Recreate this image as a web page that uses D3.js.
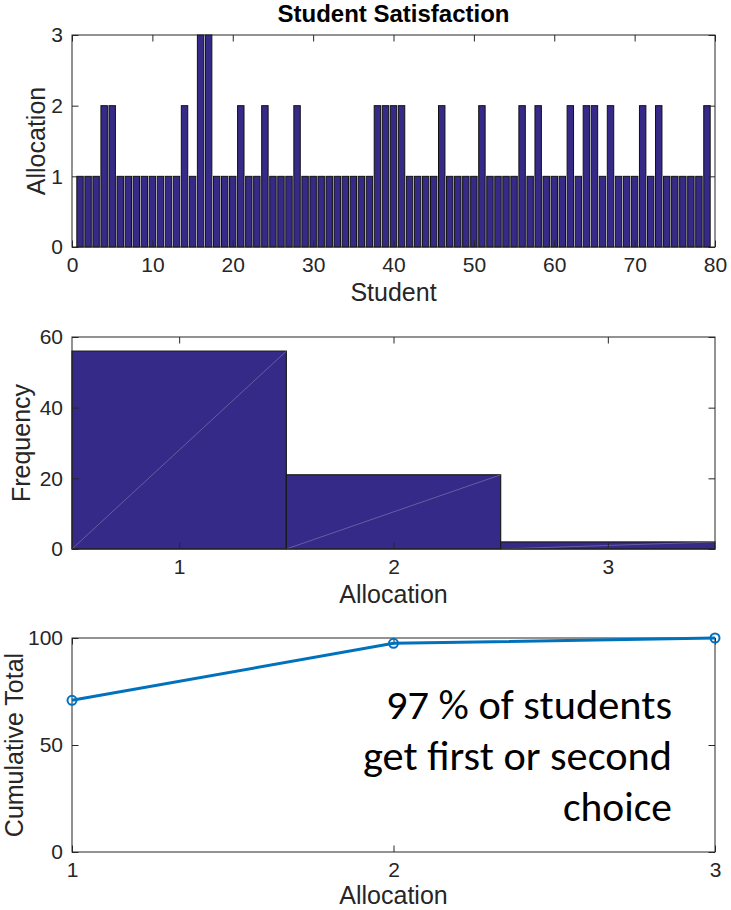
<!DOCTYPE html>
<html>
<head>
<meta charset="utf-8">
<script src="https://cdn.jsdelivr.net/npm/d3@7"></script>
<style>
body { margin: 0; background: #fff; }
svg text { font-family: "Liberation Sans", Arial, sans-serif; fill: #262626; }
.tick line, .box { stroke: #262626; }
</style>
</head>
<body>
<div id="chart"></div>
<script>
// choice rank each student ended up with (students 1..79)
var allocation = [1,1,1,2,2,1,1,1,1,1,1,1,1,2,1,3,3,1,1,1,
                  2,1,1,2,1,1,1,2,1,1,1,1,1,1,1,1,1,2,2,2,
                  2,1,1,1,1,2,1,1,1,1,2,1,1,1,1,2,1,2,1,1,
                  1,2,1,2,2,1,2,1,1,1,2,1,2,1,1,1,1,1,2];

// histogram of allocations
var choices = [1, 2, 3];
var frequency = [56, 21, 2];

// cumulative percentage of students
var cumulative = [70.9, 97.5, 100];

var studentTicks = [0, 10, 20, 30, 40, 50, 60, 70, 80];
var allocTicks = [0, 1, 2, 3];
var freqTicks = [0, 20, 40, 60];
var cumTicks = [0, 50, 100];

var noteLines = ["97 % of students", "get first or second", "choice"];

var W = 731, H = 910;
var left = 72, right = 715;
var barColor = "#352a87";
var lineColor = "#0072bd";

var svg = d3.select("#chart").append("svg")
    .attr("width", W)
    .attr("height", H);

// draws the box, inward ticks on all four sides and the tick labels
function drawFrame(x, y, top, bottom, xTicks, yTicks) {
    var g = svg.append("g");

    g.append("g")
        .attr("transform", "translate(0," + bottom + ")")
        .call(d3.axisBottom(x).tickValues(xTicks).tickSize(-6.5).tickPadding(10).tickFormat(d3.format("d")))
        .call(function(a) { a.select(".domain").remove(); a.selectAll("text").style("font-size", "21px"); });

    g.append("g")
        .attr("transform", "translate(0," + top + ")")
        .call(d3.axisTop(x).tickValues(xTicks).tickSize(-6.5).tickFormat(""))
        .call(function(a) { a.select(".domain").remove(); });

    g.append("g")
        .attr("transform", "translate(" + left + ",0)")
        .call(d3.axisLeft(y).tickValues(yTicks).tickSize(-6.5).tickPadding(9).tickFormat(d3.format("d")))
        .call(function(a) { a.select(".domain").remove(); a.selectAll("text").style("font-size", "21px"); });

    g.append("g")
        .attr("transform", "translate(" + right + ",0)")
        .call(d3.axisRight(y).tickValues(yTicks).tickSize(-6.5).tickFormat(""))
        .call(function(a) { a.select(".domain").remove(); });

    g.append("rect")
        .attr("class", "box")
        .attr("x", left)
        .attr("y", top)
        .attr("width", right - left)
        .attr("height", bottom - top)
        .attr("fill", "none")
        .attr("stroke-width", 1);

    return g;
}

function yLabel(text, x, cy) {
    svg.append("text")
        .attr("transform", "translate(" + x + "," + cy + ") rotate(-90)")
        .attr("text-anchor", "middle")
        .style("font-size", "25px")
        .text(text);
}

function xLabel(text, baseline) {
    svg.append("text")
        .attr("x", (left + right) / 2)
        .attr("y", baseline)
        .attr("text-anchor", "middle")
        .style("font-size", "25px")
        .text(text);
}

/* ---------- panel 1: allocation per student ---------- */
var t1 = 35, b1 = 247;
var x1 = d3.scaleLinear().domain([0, 80]).range([left, right]);
var y1 = d3.scaleLinear().domain([0, 3]).range([b1, t1]);

svg.append("g").selectAll("rect")
    .data(allocation)
    .enter()
    .append("rect")
    .attr("x", function(d, i) { return x1(i + 1 - 0.4); })
    .attr("y", function(d) { return y1(d); })
    .attr("width", x1(0.8) - x1(0))
    .attr("height", function(d) { return b1 - y1(d); })
    .attr("fill", barColor)
    .attr("stroke", "#111")
    .attr("stroke-width", 1);

drawFrame(x1, y1, t1, b1, studentTicks, allocTicks);

svg.append("text")
    .attr("x", (left + right) / 2)
    .attr("y", 22)
    .attr("text-anchor", "middle")
    .style("font-size", "24px")
    .style("font-weight", "bold")
    .style("fill", "#000")
    .text("Student Satisfaction");

xLabel("Student", 301);
yLabel("Allocation", 45, (t1 + b1) / 2);

/* ---------- panel 2: histogram ---------- */
var t2 = 337, b2 = 549;
var x2 = d3.scaleLinear().domain([0.5, 3.5]).range([left, right]);
var y2 = d3.scaleLinear().domain([0, 60]).range([b2, t2]);

var bins = svg.append("g").selectAll("g")
    .data(frequency)
    .enter()
    .append("g");

bins.append("rect")
    .attr("x", function(d, i) { return x2(choices[i] - 0.5); })
    .attr("y", function(d) { return y2(d); })
    .attr("width", x2(1.5) - x2(0.5))
    .attr("height", function(d) { return b2 - y2(d); })
    .attr("fill", barColor)
    .attr("stroke", "#1a1a1a")
    .attr("stroke-width", 1.2);

// faint render seam across each patch
bins.append("line")
    .attr("x1", function(d, i) { return x2(choices[i] - 0.5); })
    .attr("y1", b2)
    .attr("x2", function(d, i) { return x2(choices[i] + 0.5); })
    .attr("y2", function(d) { return y2(d); })
    .attr("stroke", "#ffffff")
    .attr("stroke-opacity", 0.35)
    .attr("stroke-width", 0.7);

drawFrame(x2, y2, t2, b2, choices, freqTicks);
xLabel("Allocation", 603);
yLabel("Frequency", 30, (t2 + b2) / 2);

/* ---------- panel 3: cumulative total ---------- */
var t3 = 638, b3 = 852;
var x3 = d3.scaleLinear().domain([1, 3]).range([left, right]);
var y3 = d3.scaleLinear().domain([0, 100]).range([b3, t3]);

drawFrame(x3, y3, t3, b3, choices, cumTicks);

var line = d3.line()
    .x(function(d, i) { return x3(choices[i]); })
    .y(function(d) { return y3(d); });

svg.append("path")
    .datum(cumulative)
    .attr("d", line)
    .attr("fill", "none")
    .attr("stroke", lineColor)
    .attr("stroke-width", 3);

svg.append("g").selectAll("circle")
    .data(cumulative)
    .enter()
    .append("circle")
    .attr("cx", function(d, i) { return x3(choices[i]); })
    .attr("cy", function(d) { return y3(d); })
    .attr("r", 4.5)
    .attr("fill", "none")
    .attr("stroke", lineColor)
    .attr("stroke-width", 2);

xLabel("Allocation", 904);
yLabel("Cumulative Total", 23, (t3 + b3) / 2);

// annotation
var noteWidths = [286, 309, 109];
svg.append("g").selectAll("text")
    .data(noteLines)
    .enter()
    .append("text")
    .attr("x", 672)
    .attr("y", function(d, i) { return 719 + i * 51; })
    .attr("text-anchor", "end")
    .attr("textLength", function(d, i) { return noteWidths[i]; })
    .attr("lengthAdjust", "spacingAndGlyphs")
    .style("font-family", "Carlito, Calibri, Lato, sans-serif")
    .style("font-size", "41px")
    .style("fill", "#000")
    .text(function(d) { return d; });
</script>
</body>
</html>
